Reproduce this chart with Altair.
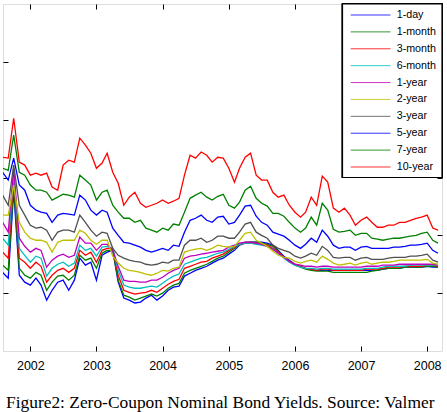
import altair as alt
import pandas as pd

# Month-start observation dates, Aug 2001 .. Mar 2008
dates = pd.date_range("2001-08-01", periods=80, freq="MS").strftime("%Y-%m-%d").tolist()

tenors = ["1-day", "1-month", "3-month", "6-month", "1-year",
          "2-year", "3-year", "5-year", "7-year", "10-year"]
tenor_colors = ["#0000ff", "#008000", "#ff0000", "#00bfbf", "#bf00bf",
                "#bfbf00", "#505050", "#0000ff", "#008000", "#ff0000"]

# Zero-coupon yields (%) by tenor
y_1d = [6.72, 6.52, 9.56, 6.62, 6.38, 6.28, 6.52, 6.28, 5.76, 6.10,
        6.38, 6.45, 6.10, 6.45, 7.21, 6.97, 7.07, 6.45, 7.31, 7.42,
        7.48, 6.38, 5.83, 5.76, 5.66, 5.69, 5.83, 5.93, 5.76, 5.90,
        6.10, 6.21, 6.24, 6.59, 6.69, 6.79, 6.86, 6.93, 7.04, 7.14,
        7.21, 7.35, 7.48, 7.66, 7.73, 7.76, 7.76, 7.76, 7.73, 7.66,
        7.48, 7.28, 7.14, 7.00, 6.93, 6.86, 6.83, 6.79, 6.79, 6.79,
        6.79, 6.79, 6.79, 6.79, 6.79, 6.79, 6.79, 6.79, 6.79, 6.83,
        6.86, 6.86, 6.86, 6.90, 6.90, 6.90, 6.90, 6.93, 6.90, 6.90]
y_1m = [6.97, 6.79, 9.74, 6.86, 6.62, 6.52, 6.72, 6.62, 6.10, 6.38,
        6.59, 6.62, 6.45, 6.62, 7.31, 7.14, 7.21, 6.86, 7.38, 7.48,
        7.48, 6.45, 5.93, 5.86, 5.76, 5.83, 5.90, 5.97, 5.90, 6.00,
        6.17, 6.28, 6.34, 6.69, 6.79, 6.86, 6.93, 7.00, 7.10, 7.21,
        7.28, 7.42, 7.55, 7.69, 7.76, 7.76, 7.76, 7.73, 7.69, 7.62,
        7.45, 7.24, 7.10, 6.97, 6.90, 6.83, 6.79, 6.76, 6.76, 6.76,
        6.72, 6.72, 6.72, 6.72, 6.72, 6.72, 6.72, 6.76, 6.79, 6.83,
        6.86, 6.86, 6.86, 6.90, 6.90, 6.90, 6.90, 6.93, 6.93, 6.90]
y_3m = [7.42, 7.21, 10.08, 7.21, 7.07, 6.86, 7.07, 6.93, 6.38, 6.62,
        6.79, 6.86, 6.72, 6.86, 7.48, 7.31, 7.42, 7.07, 7.48, 7.55,
        7.55, 6.62, 6.10, 6.03, 5.97, 6.00, 6.03, 6.10, 6.03, 6.17,
        6.31, 6.41, 6.48, 6.86, 6.93, 7.00, 7.07, 7.10, 7.21, 7.28,
        7.35, 7.48, 7.59, 7.69, 7.73, 7.73, 7.73, 7.69, 7.66, 7.55,
        7.42, 7.24, 7.10, 7.00, 6.93, 6.86, 6.83, 6.79, 6.83, 6.83,
        6.79, 6.79, 6.79, 6.79, 6.79, 6.79, 6.83, 6.83, 6.83, 6.86,
        6.90, 6.90, 6.90, 6.93, 6.93, 6.93, 6.93, 6.97, 6.97, 6.93]
y_6m = [7.90, 7.66, 10.18, 7.55, 7.31, 7.07, 7.28, 7.21, 6.59, 6.86,
        7.00, 7.07, 6.93, 7.04, 7.66, 7.48, 7.55, 7.28, 7.59, 7.62,
        7.55, 6.79, 6.28, 6.21, 6.17, 6.17, 6.21, 6.24, 6.21, 6.34,
        6.48, 6.59, 6.66, 7.00, 7.07, 7.14, 7.21, 7.24, 7.31, 7.38,
        7.42, 7.52, 7.62, 7.69, 7.73, 7.73, 7.69, 7.66, 7.62, 7.52,
        7.38, 7.21, 7.07, 6.97, 6.90, 6.86, 6.86, 6.83, 6.86, 6.86,
        6.83, 6.83, 6.83, 6.83, 6.83, 6.83, 6.86, 6.86, 6.86, 6.90,
        6.93, 6.93, 6.93, 6.93, 6.97, 6.97, 6.97, 6.97, 6.97, 6.97]
y_1y = [8.45, 8.11, 10.32, 7.90, 7.62, 7.42, 7.55, 7.48, 6.90, 7.14,
        7.28, 7.35, 7.24, 7.31, 7.94, 7.73, 7.73, 7.48, 7.69, 7.69,
        7.48, 6.93, 6.45, 6.41, 6.41, 6.38, 6.38, 6.45, 6.45, 6.55,
        6.69, 6.79, 6.86, 7.21, 7.28, 7.31, 7.35, 7.38, 7.42, 7.45,
        7.48, 7.59, 7.66, 7.73, 7.76, 7.76, 7.73, 7.69, 7.62, 7.52,
        7.38, 7.24, 7.10, 7.00, 6.97, 6.93, 6.93, 6.90, 6.93, 6.93,
        6.90, 6.90, 6.90, 6.90, 6.90, 6.90, 6.93, 6.93, 6.93, 6.97,
        6.97, 6.97, 7.00, 7.00, 7.00, 7.00, 7.00, 7.00, 7.00, 6.97]
y_2y = [8.70, 8.70, 9.74, 8.45, 8.11, 7.90, 7.83, 7.83, 7.76, 7.42,
        7.76, 7.83, 7.83, 7.83, 8.18, 8.07, 7.83, 7.69, 7.83, 7.83,
        7.28, 7.04, 6.86, 6.79, 6.76, 6.72, 6.66, 6.62, 6.69, 6.79,
        6.76, 6.86, 6.90, 7.42, 7.48, 7.52, 7.55, 7.48, 7.55, 7.66,
        7.62, 7.59, 7.62, 7.83, 8.07, 8.11, 7.83, 7.73, 7.62, 7.45,
        7.31, 7.24, 7.21, 7.10, 7.04, 7.10, 7.14, 7.07, 7.28, 7.17,
        7.04, 6.97, 7.00, 7.04, 6.97, 7.04, 7.07, 7.00, 7.04, 7.07,
        7.07, 7.10, 7.14, 7.14, 7.14, 7.14, 7.14, 7.17, 7.04, 7.00]
y_3y = [9.39, 9.04, 10.43, 9.04, 8.70, 8.35, 8.25, 8.28, 8.18, 7.83,
        8.11, 8.18, 8.18, 8.11, 8.70, 8.45, 8.18, 7.97, 8.11, 8.07,
        7.55, 7.31, 7.21, 7.14, 7.10, 7.07, 7.00, 6.97, 7.00, 7.07,
        7.04, 7.14, 7.14, 7.66, 7.83, 7.83, 7.90, 7.76, 7.83, 7.97,
        7.97, 7.90, 7.90, 8.11, 8.39, 8.45, 8.11, 8.00, 7.90, 7.66,
        7.55, 7.48, 7.42, 7.28, 7.21, 7.28, 7.38, 7.31, 7.62, 7.48,
        7.24, 7.21, 7.24, 7.24, 7.14, 7.21, 7.24, 7.17, 7.17, 7.17,
        7.21, 7.24, 7.24, 7.24, 7.28, 7.28, 7.31, 7.35, 7.14, 7.07]
y_5y = [10.18, 9.91, 10.67, 9.74, 9.56, 9.04, 8.87, 8.80, 8.76, 8.45,
        8.70, 8.76, 8.73, 8.70, 9.39, 9.22, 8.87, 8.70, 8.87, 8.80,
        8.25, 8.00, 7.76, 7.73, 7.66, 7.59, 7.48, 7.42, 7.48, 7.55,
        7.48, 7.66, 7.62, 8.11, 8.52, 8.59, 8.70, 8.52, 8.45, 8.63,
        8.66, 8.39, 8.45, 8.70, 9.01, 9.04, 8.66, 8.45, 8.35, 8.11,
        8.04, 7.97, 7.83, 7.66, 7.55, 7.69, 7.90, 7.76, 8.18, 7.97,
        7.66, 7.55, 7.59, 7.59, 7.48, 7.59, 7.62, 7.55, 7.55, 7.55,
        7.55, 7.59, 7.59, 7.62, 7.66, 7.66, 7.69, 7.73, 7.48, 7.38]
y_7y = [10.32, 10.25, 11.47, 10.18, 10.08, 9.74, 9.56, 9.56, 9.49, 9.22,
        9.32, 9.42, 9.39, 9.32, 10.08, 9.91, 9.74, 9.22, 9.49, 9.56,
        9.04, 8.80, 8.59, 8.59, 8.45, 8.52, 8.25, 8.18, 8.11, 8.25,
        8.18, 8.39, 8.35, 8.80, 9.28, 9.39, 9.49, 9.32, 9.22, 9.35,
        9.42, 9.04, 8.94, 9.15, 9.56, 9.70, 9.28, 9.11, 9.01, 8.76,
        8.76, 8.66, 8.45, 8.25, 8.11, 8.25, 8.63, 8.35, 9.11, 8.87,
        8.21, 8.11, 8.14, 8.18, 8.00, 8.07, 8.07, 7.90, 7.87, 7.83,
        7.87, 7.90, 7.90, 7.94, 7.97, 8.00, 8.07, 8.11, 7.83, 7.73]
y_10y = [10.70, 10.67, 12.05, 10.53, 10.43, 10.08, 10.15, 10.08, 10.15, 9.67,
         9.56, 10.43, 10.60, 10.53, 11.36, 11.12, 10.84, 10.32, 10.50, 10.84,
         10.18, 9.80, 9.04, 9.32, 9.49, 9.11, 8.97, 9.04, 9.11, 9.22,
         9.11, 9.18, 9.28, 10.08, 10.77, 10.67, 10.88, 10.77, 10.53, 10.70,
         10.67, 10.32, 9.84, 10.32, 10.70, 10.84, 10.08, 9.91, 9.91, 9.49,
         9.32, 9.39, 9.04, 8.80, 8.63, 8.80, 9.32, 9.04, 10.05, 9.84,
         8.94, 8.80, 8.94, 8.70, 8.35, 8.52, 8.63, 8.45, 8.28, 8.28,
         8.35, 8.35, 8.45, 8.45, 8.52, 8.59, 8.63, 8.70, 8.25, 8.18]

year_ticks = [2002, 2003, 2004, 2005, 2006, 2007, 2008]
value_ticks = [6, 8, 10, 12, 14]
caption_text = "Figure2: Zero-Coupon Nominal Bond Yields. Source: Valmer"

all_series = [y_1d, y_1m, y_3m, y_6m, y_1y, y_2y, y_3y, y_5y, y_7y, y_10y]
rows = []
for name, vals in zip(tenors, all_series):
    for d, v in zip(dates, vals):
        rows.append({"date": d, "tenor": name, "yield": v})
df = pd.DataFrame(rows)
legend_df = pd.DataFrame({"tenor": tenors})

x_scale = alt.Scale(
    type="utc",
    domain=[alt.DateTime(year=2001, month=8, date=3, utc=True),
            alt.DateTime(year=2008, month=3, date=23, utc=True)],
)
y_scale = alt.Scale(domain=[4, 16], nice=False, zero=False)
color_scale = alt.Scale(domain=tenors, range=tenor_colors)
tick_dates = [alt.DateTime(year=y, month=1, date=1, utc=True) for y in year_ticks]

# ticks drawn inside the frame: axis pulled inward by its own tick length
inner = dict(offset=-5, tickSize=5, tickColor="black", tickWidth=1,
             domain=False, grid=False, title=None)

lines = alt.Chart(df).mark_line(strokeWidth=1.3, clip=True).encode(
    x=alt.X("date:T", scale=x_scale,
            axis=alt.Axis(values=tick_dates, format="%Y", labelFont="Liberation Sans",
                          labelFontSize=12.5, labelColor="black", labelPadding=8,
                          labelFlush=False, labelOverlap=False, **inner)),
    y=alt.Y("yield:Q", scale=y_scale,
            axis=alt.Axis(values=value_ticks, labels=False, **inner)),
    color=alt.Color("tenor:N", scale=color_scale, legend=None),
)

mirror = alt.Chart(df).mark_point(opacity=0).encode(
    x=alt.X("date:T", scale=x_scale,
            axis=alt.Axis(orient="top", values=tick_dates, labels=False, **inner)),
    y=alt.Y("yield:Q", scale=y_scale,
            axis=alt.Axis(orient="right", values=value_ticks, labels=False, **inner)),
)

# legend box in the upper-right corner of the frame
legend_box = alt.Chart(legend_df).mark_rect(
    fill="white", stroke="black", strokeWidth=1.2
).encode(x=alt.value(339.5), x2=alt.value(439), y=alt.value(0), y2=alt.value(173.5))

legend_row = alt.Y("tenor:N", sort=tenors,
                   scale=alt.Scale(type="point", domain=tenors, range=[11, 163], padding=0),
                   axis=None)

legend_lines = alt.Chart(legend_df).mark_rule(strokeWidth=1, opacity=0.8).encode(
    x=alt.value(347.7), x2=alt.value(387.5), y=legend_row,
    color=alt.Color("tenor:N", scale=color_scale, legend=None),
)

legend_labels = alt.Chart(legend_df).mark_text(
    align="left", baseline="middle", font="Liberation Sans", fontSize=10.7, color="black"
).encode(x=alt.value(393.7), y=legend_row, text="tenor:N")

caption = alt.Chart(pd.DataFrame({"caption": [caption_text]})).mark_text(
    align="left", baseline="alphabetic", font="Liberation Serif",
    fontSize=17.4, color="black",
).encode(x=alt.value(3), y=alt.value(404), text="caption:N")

chart = (
    alt.layer(lines, mirror, legend_box, legend_lines, legend_labels, caption)
    .resolve_axis(x="independent", y="independent")
    .resolve_scale(y="independent")
    .properties(width=439, height=347,
                autosize=alt.AutoSizeParams(type="none"),
                padding={"left": 3, "top": 4, "right": 5, "bottom": 61})
    .configure_view(stroke="black", strokeWidth=1.2)
    .configure(background="white")
)

chart.save("out.html", embed_options={"renderer": "svg", "actions": False})
